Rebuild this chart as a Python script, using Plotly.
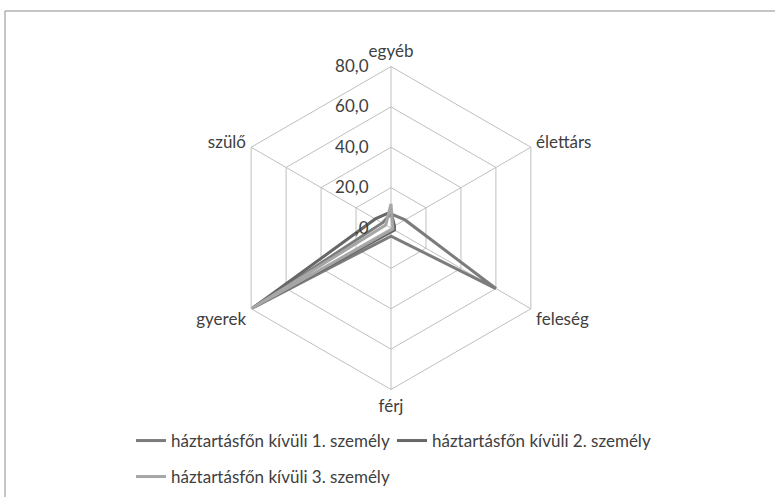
import plotly.graph_objects as go

categories = ["egyéb", "élettárs", "feleség", "férj", "gyerek", "szülő"]
series_names = [
    "háztartásfőn kívüli 1. személy",
    "háztartásfőn kívüli 2. személy",
    "háztartásfőn kívüli 3. személy",
]
s1 = [7.0, 8.0, 60.0, 4.0, 80.0, 5.0]
s2 = [8.0, 2.0, 2.0, 2.0, 78.0, 9.0]
s3 = [12.0, 1.0, 1.0, 1.0, 80.0, 3.0]
tick_vals = [0, 20, 40, 60, 80]
tick_text = [",0", "20,0", "40,0", "60,0", "80,0"]

colors = ["#7c7c7c", "#676767", "#a6a6a6"]
FONT = "Lato"
FS = 17
W, H = 775, 497

fig = go.Figure()
for name, vals, col, leg in zip(series_names, [s1, s2, s3], colors, ["legend", "legend", "legend2"]):
    fig.add_trace(go.Scatterpolar(
        r=vals + [vals[0]],
        theta=categories + [categories[0]],
        mode="lines",
        name=name,
        line=dict(color=col, width=3),
        legend=leg,
    ))

cx, cy, R = 391, 228, 161.5
fig.update_layout(
    width=W, height=H,
    margin=dict(l=0, r=0, t=0, b=0, autoexpand=False),
    paper_bgcolor="white",
    font=dict(family=FONT, size=FS, color="#404040"),
    polar=dict(
        domain=dict(x=[(cx - R) / W, (cx + R) / W], y=[1 - (cy + R) / H, 1 - (cy - R) / H]),
        bgcolor="white",
        gridshape="linear",
        angularaxis=dict(
            rotation=90, direction="clockwise",
            showline=True, linecolor="#bfbfbf", linewidth=1,
            gridcolor="#bfbfbf", gridwidth=1,
            ticks="outside", ticklen=2, tickcolor="rgba(0,0,0,0)",
            tickfont=dict(family=FONT, size=FS, color="#404040"),
        ),
        radialaxis=dict(
            range=[0, 80], angle=90, tickangle=90,
            tickvals=tick_vals, ticktext=tick_text,
            showline=False, gridcolor="#bfbfbf", gridwidth=1,
            ticks="outside", ticklen=16, tickcolor="rgba(0,0,0,0)",
            side="counterclockwise",
            tickfont=dict(family=FONT, size=FS, color="#404040"),
        ),
    ),
    legend=dict(
        orientation="h", x=131 / W, y=1 - 423 / H, xanchor="left", yanchor="top",
        entrywidth=216, entrywidthmode="pixels",
        font=dict(family=FONT, size=FS, color="#404040"), bgcolor="rgba(0,0,0,0)",
    ),
    legend2=dict(
        orientation="h", x=131 / W, y=1 - 459 / H, xanchor="left", yanchor="top",
        font=dict(family=FONT, size=FS, color="#404040"), bgcolor="rgba(0,0,0,0)",
    ),
    shapes=[dict(type="rect", xref="paper", yref="paper",
                 x0=5 / W, x1=1.05, y0=-0.05, y1=1 - 11 / H,
                 line=dict(color="#8c8c8c", width=1), fillcolor="rgba(0,0,0,0)")],
)

fig.write_html("out.html", config={"displayModeBar": False},
               post_script="document.body.style.margin='0';")
